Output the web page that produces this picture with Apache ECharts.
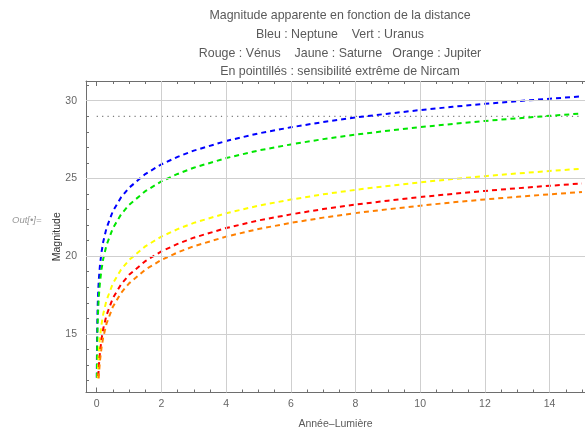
<!DOCTYPE html>
<html>
<head>
<meta charset="utf-8">
<script src="https://cdn.jsdelivr.net/npm/echarts@6/dist/echarts.min.js"></script>
<style>
  html, body { margin: 0; padding: 0; background: #fff; }
  #chart { width: 585px; height: 429px; }
</style>
</head>
<body>
<div id="chart"></div>
<script>
// distances en années-lumière (échantillons)
var distances = [0.0036, 0.006, 0.01, 0.015, 0.02, 0.03, 0.04, 0.05, 0.06, 0.07, 0.1, 0.15, 0.2, 0.3, 0.5, 0.75, 1, 1.5, 2, 2.5, 3, 4, 5, 6, 7, 8, 9, 10, 11, 12, 13, 14, 15];

// magnitudes apparentes
var neptune = [12.18, 13.29, 14.40, 15.28, 15.91, 16.79, 17.41, 17.89, 18.29, 18.63, 19.40, 20.28, 20.91, 21.79, 22.90, 23.78, 24.40, 25.28, 25.91, 26.39, 26.79, 27.41, 27.90, 28.29, 28.63, 28.92, 29.17, 29.40, 29.61, 29.80, 29.97, 30.13, 30.28];
var uranus = [null, 12.19, 13.30, 14.18, 14.81, 15.69, 16.31, 16.79, 17.19, 17.53, 18.30, 19.18, 19.81, 20.69, 21.80, 22.68, 23.30, 24.18, 24.81, 25.29, 25.69, 26.31, 26.80, 27.19, 27.53, 27.82, 28.07, 28.30, 28.51, 28.70, 28.87, 29.03, 29.18];
var saturne = [null, null, null, null, null, 12.14, 12.76, 13.24, 13.64, 13.98, 14.75, 15.63, 16.26, 17.14, 18.25, 19.13, 19.75, 20.63, 21.26, 21.74, 22.14, 22.76, 23.25, 23.64, 23.98, 24.27, 24.52, 24.75, 24.96, 25.15, 25.32, 25.48, 25.63];
var venus = [null, null, null, null, null, null, null, 12.29, 12.69, 13.03, 13.80, 14.68, 15.31, 16.19, 17.30, 18.18, 18.80, 19.68, 20.31, 20.79, 21.19, 21.81, 22.30, 22.69, 23.03, 23.32, 23.57, 23.80, 24.01, 24.20, 24.37, 24.53, 24.68];
var jupiter = [null, null, null, null, null, null, null, null, 12.14, 12.48, 13.25, 14.13, 14.76, 15.64, 16.75, 17.63, 18.25, 19.13, 19.76, 20.24, 20.64, 21.26, 21.75, 22.14, 22.48, 22.77, 23.02, 23.25, 23.46, 23.65, 23.82, 23.98, 24.13];

// sensibilité extrême de Nircam
var nircamX = [0, 15];
var nircamMag = [29, 29];

// graduations
var xMajorTicks = [0, 2, 4, 6, 8, 10, 12, 14];
var xMinorTicks = [0.5, 1, 1.5, 2.5, 3, 3.5, 4.5, 5, 5.5, 6.5, 7, 7.5, 8.5, 9, 9.5, 10.5, 11, 11.5, 12.5, 13, 13.5, 14.5, 15];
var yMajorTicks = [15, 20, 25, 30];
var yMinorTicks = [12, 13, 14, 16, 17, 18, 19, 21, 22, 23, 24, 26, 27, 28, 29, 31];
var xGrid = [2, 4, 6, 8, 10, 12, 14];
var yGrid = [15, 20, 25, 30];

var X_MIN = -0.331, X_MAX = 15.094;
var Y_MIN = 11.23, Y_MAX = 31.27;
var frameColor = '#6e6e6e';
var textColor = '#5a5a5a';
var font = 'Liberation Sans, Arial, sans-serif';

function pairs(xs, ys) {
  return xs.map(function (x, i) { return [x, ys[i]]; });
}

// un axe = une série de graduations (majeures ou mineures)
function axis(kind, pos, ticks, len, withLine, withLabels) {
  var min = kind === 'x' ? X_MIN : Y_MIN;
  var max = kind === 'x' ? X_MAX : Y_MAX;
  return {
    type: 'value', position: pos, min: min, max: max,
    axisLine: { show: withLine, onZero: false, lineStyle: { color: frameColor, width: 1 } },
    axisTick: { show: true, inside: true, length: len, customValues: ticks,
                lineStyle: { color: frameColor, width: 1 } },
    axisLabel: withLabels
      ? { show: true, customValues: ticks, color: '#666', fontSize: 10.5, fontFamily: font,
          margin: kind === 'x' ? 6 : 9 }
      : { show: false },
    splitLine: { show: false }
  };
}

var myChart = echarts.init(document.getElementById('chart'));

function planet(name, color, ys) {
  return {
    name: name, type: 'line', data: pairs(distances, ys),
    showSymbol: false, silent: true, z: 3,
    lineStyle: { color: color, width: 2, type: [5, 4] }
  };
}

var xMain = axis('x', 'bottom', xMajorTicks, 5, true, true);
xMain.name = 'Année–Lumière';
xMain.nameLocation = 'middle';
xMain.nameGap = 26;
xMain.nameMoveOverlap = false;
xMain.nameTextStyle = { color: textColor, fontSize: 10.5, fontFamily: font };

var yMain = axis('y', 'left', yMajorTicks, 5, true, true);
yMain.name = 'Magnitude';
yMain.nameLocation = 'middle';
yMain.nameGap = 23;
yMain.nameMoveOverlap = false;
yMain.nameTextStyle = { color: '#333', fontSize: 10.5, fontFamily: font };

option = {
  backgroundColor: '#fff',
  animation: false,
  title: {
    text: 'Magnitude apparente en fonction de la distance\n' +
          'Bleu : Neptune    Vert : Uranus\n' +
          'Rouge : Vénus    Jaune : Saturne   Orange : Jupiter\n' +
          'En pointillés : sensibilité extrême de Nircam',
    left: 335, top: 1.5, textAlign: 'center',
    textStyle: { color: textColor, fontSize: 12.4, fontWeight: 'normal', fontFamily: font, lineHeight: 18.7 }
  },
  graphic: [{
    type: 'text', left: 12, top: 215,
    style: { text: 'Out[•]=', fill: '#999', font: 'italic 9.5px ' + font }
  }],
  grid: { left: 86, top: 81, right: 0, bottom: 36.5, outerBoundsMode: 'none' },
  xAxis: [
    xMain,
    axis('x', 'bottom', xMinorTicks, 3, false, false),
    axis('x', 'top', xMajorTicks, 5, true, false),
    axis('x', 'top', xMinorTicks, 3, false, false)
  ],
  yAxis: [
    yMain,
    axis('y', 'left', yMinorTicks, 3, false, false)
  ],
  series: [
    {
      name: 'grille', type: 'line', data: [], silent: true, z: 1,
      markLine: {
        silent: true, symbol: ['none', 'none'], label: { show: false },
        lineStyle: { color: '#cfcfcf', type: 'solid', width: 1 },
        data: xGrid.map(function (v) { return { xAxis: v }; })
          .concat(yGrid.map(function (v) { return { yAxis: v }; }))
      }
    },
    {
      name: 'Nircam', type: 'line', data: pairs(nircamX, nircamMag),
      showSymbol: false, silent: true, z: 2,
      lineStyle: { color: '#7a7a7a', width: 1.2, type: [1.2, 4.2] }
    },
    planet('Neptune', '#0000ff', neptune),
    planet('Uranus', '#00e600', uranus),
    planet('Saturne', '#ffff00', saturne),
    planet('Vénus', '#ff0000', venus),
    planet('Jupiter', '#ff8000', jupiter)
  ]
};

myChart.setOption(option);
</script>
</body>
</html>
